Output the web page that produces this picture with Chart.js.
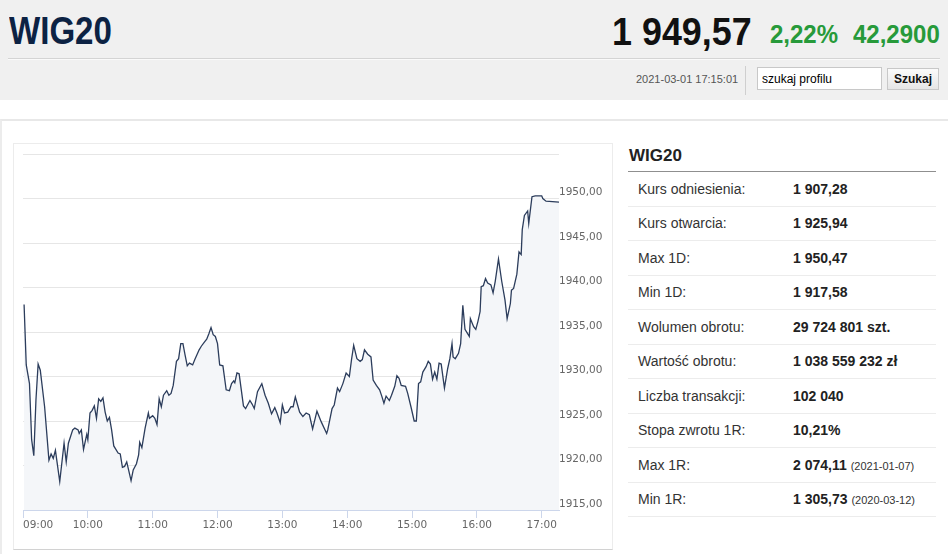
<!DOCTYPE html>
<html lang="pl">
<head>
<meta charset="utf-8">
<title>WIG20</title>
<script src="https://cdn.jsdelivr.net/npm/chart.js@4.4.1/dist/chart.umd.min.js"></script>
<style>
  html, body { margin: 0; padding: 0; }
  body { width: 948px; height: 554px; position: relative; overflow: hidden; background: #fff; font-family: "Liberation Sans", Arial, sans-serif; }
  #top { position: absolute; left: 0; top: 0; width: 948px; height: 100px; background: #f0f0f0; }
  .big { position: absolute; white-space: nowrap; font-family: "Liberation Sans", Arial, sans-serif; font-weight: bold; transform-origin: 0 0; }
  .ticker { left: 9px; top: 12px; font-size: 38px; line-height: 38px; color: #0c2243; transform: scaleX(0.87); }
  .last { left: 612px; top: 12px; font-size: 39px; line-height: 39px; color: #111; transform: scaleX(0.92); }
  .chg { top: 22px; font-size: 25px; line-height: 25px; color: #279a3a; transform: scaleX(0.96); }
  .rule { position: absolute; left: 8px; right: 8px; top: 58px; height: 0; border-top: 1px solid #d4d4d4; border-bottom: 1px solid #fafafa; }
  .stamp { position: absolute; left: 636px; top: 73px; font-size: 11px; color: #555; }
  .vsep { position: absolute; left: 745px; top: 66px; width: 1px; height: 29px; background: #cfcfcf; }
  .search { position: absolute; left: 757px; top: 67px; width: 125px; height: 23px; box-sizing: border-box; border: 1px solid #c8c8c8; padding: 0 4px; font: 12px "Liberation Sans", Arial, sans-serif; color: #000; background: #fff; }
  .btn { position: absolute; left: 887px; top: 68px; width: 52px; height: 22px; box-sizing: border-box; border: 1px solid #c8c8c8; background: linear-gradient(#fbfbfb, #e6e6e6); font: bold 12px "Liberation Sans", Arial, sans-serif; color: #111; padding: 0; }
  #content { position: absolute; left: 0; top: 119px; width: 948px; height: 435px; border-top: 2px solid #e8e8e8; border-left: 2px solid #ececec; box-sizing: border-box; }
  #chartBox { position: absolute; left: 13px; top: 143px; width: 600px; height: 407px; box-sizing: border-box; border: 1px solid #ececec; border-bottom-color: #d2d2d2; }
  #chartWrap { position: absolute; left: 0; top: 0; width: 598px; height: 405px; }
  #panel { position: absolute; left: 628px; top: 143px; width: 308px; }
  #panel h2 { margin: 0; height: 28px; line-height: 26px; font-size: 17px; font-weight: bold; color: #222; border-bottom: 1px solid #8f8f8f; padding-left: 1px; }
  #panel table { border-collapse: collapse; width: 308px; }
  #panel td { height: 33.5px; padding: 0; border-bottom: 1px solid #ececec; font-size: 14px; vertical-align: middle; }
  #panel td.lab { width: 155px; padding-left: 10px; color: #333; }
  #panel td.val { font-weight: bold; color: #222; }
  #panel td.val small { font-weight: normal; font-size: 11px; color: #333; }
</style>
</head>
<body>
<div id="top">
  <div class="big ticker">WIG20</div>
  <div class="big last">1 949,57</div>
  <div class="big chg" style="left: 770px">2,22%</div>
  <div class="big chg" style="left: 853px">42,2900</div>
  <div class="rule"></div>
  <div class="stamp">2021-03-01 17:15:01</div>
  <div class="vsep"></div>
  <input class="search" type="text" value="szukaj profilu">
  <button class="btn">Szukaj</button>
</div>
<div id="content"></div>
<div id="chartBox"><div id="chartWrap"><canvas id="wigChart"></canvas></div></div>
<div id="panel">
  <h2>WIG20</h2>
  <table>
    <tr><td class="lab">Kurs odniesienia:</td><td class="val">1 907,28</td></tr>
    <tr><td class="lab">Kurs otwarcia:</td><td class="val">1 925,94</td></tr>
    <tr><td class="lab">Max 1D:</td><td class="val">1 950,47</td></tr>
    <tr><td class="lab">Min 1D:</td><td class="val">1 917,58</td></tr>
    <tr><td class="lab">Wolumen obrotu:</td><td class="val">29 724 801 szt.</td></tr>
    <tr><td class="lab">Wartość obrotu:</td><td class="val">1 038 559 232 zł</td></tr>
    <tr><td class="lab">Liczba transakcji:</td><td class="val">102 040</td></tr>
    <tr><td class="lab">Stopa zwrotu 1R:</td><td class="val">10,21%</td></tr>
    <tr><td class="lab">Max 1R:</td><td class="val">2 074,11 <small>(2021-01-07)</small></td></tr>
    <tr><td class="lab">Min 1R:</td><td class="val">1 305,73 <small>(2020-03-12)</small></td></tr>
  </table>
</div>
<script>
// intraday session, minutes after 09:00
const minutes = [
  1, 3, 6, 8, 10, 12, 14, 16, 20, 24,
  26, 28, 30, 34, 38, 40, 42, 46, 48, 51,
  52, 54, 56, 59, 60, 62, 64, 66, 68, 70,
  72, 74, 76, 78, 80, 82, 84, 88, 90, 92,
  94, 96, 100, 102, 105, 107, 108, 110, 113, 116,
  117, 120, 122, 124, 126, 128, 130, 133, 135, 137,
  139, 142, 144, 146, 148, 150, 152, 154, 157, 159,
  163, 165, 168, 170, 172, 174, 176, 178, 180, 182,
  185, 188, 191, 193, 195, 196, 198, 200, 202, 204,
  206, 210, 212, 214, 217, 221, 224, 227, 230, 233,
  235, 238, 240, 242, 245, 248, 250, 252, 256, 259,
  262, 265, 268, 272, 276, 281, 282, 286, 288, 291,
  293, 296, 299, 302, 304, 306, 309, 312, 314, 316,
  319, 322, 324, 327, 330, 332, 334, 336, 339, 341,
  344, 346, 348, 350, 354, 356, 359, 362, 364, 366,
  368, 370, 373, 375, 377, 379, 381, 383, 385, 387,
  389, 390, 393, 395, 397, 398, 400, 403, 405, 407,
  409, 411, 413, 414, 417, 419, 421, 423, 424, 426,
  428, 430, 433, 435, 437, 440, 443, 446, 448, 451,
  452, 454, 457, 459, 461, 462, 464, 467, 468, 471,
  474, 480, 481, 484, 496
];

const prices = [
  1938.1, 1931.3, 1929.2, 1922.9, 1921.1, 1927.4, 1931.4, 1930.7, 1926.6, 1920.6,
  1921.3, 1920.8, 1921.7, 1918.2, 1922.5, 1920.4, 1922.5, 1924.0, 1924.2, 1924.0,
  1923.6, 1924.0, 1921.8, 1923.5, 1922.9, 1925.9, 1926.2, 1926.7, 1925.3, 1927.5,
  1927.2, 1927.6, 1926.0, 1925.0, 1925.4, 1924.0, 1922.2, 1921.4, 1921.3, 1919.8,
  1919.9, 1920.4, 1918.3, 1919.5, 1920.2, 1921.2, 1922.6, 1922.0, 1924.2, 1925.9,
  1925.3, 1925.6, 1925.3, 1924.6, 1927.5, 1926.6, 1927.9, 1928.4, 1927.9, 1928.1,
  1929.0, 1931.7, 1932.0, 1933.7, 1933.7, 1932.4, 1931.2, 1931.5, 1931.3, 1931.9,
  1933.0, 1933.4, 1933.9, 1934.2, 1934.8, 1935.5, 1934.7, 1934.5, 1933.7, 1931.3,
  1931.2, 1928.5, 1928.4, 1929.2, 1929.5, 1929.3, 1930.4, 1930.3, 1928.5, 1926.7,
  1926.4, 1927.3, 1926.9, 1926.4, 1928.3, 1929.2, 1927.9, 1927.0, 1925.8, 1926.5,
  1925.9, 1924.8, 1926.8, 1925.9, 1926.0, 1926.6, 1926.6, 1927.7, 1926.0, 1925.5,
  1925.9, 1925.7, 1924.1, 1926.1, 1924.9, 1923.6, 1924.0, 1926.4, 1926.8, 1928.7,
  1928.3, 1929.2, 1930.4, 1930.0, 1931.9, 1933.5, 1932.0, 1931.7, 1931.9, 1933.0,
  1932.5, 1932.2, 1929.6, 1929.0, 1928.5, 1927.8, 1927.0, 1927.8, 1927.3, 1927.9,
  1928.9, 1930.1, 1929.8, 1929.0, 1928.9, 1928.1, 1926.6, 1925.0, 1925.0, 1929.2,
  1929.4, 1930.5, 1931.1, 1931.7, 1931.4, 1929.7, 1930.5, 1929.7, 1931.5, 1931.4,
  1929.6, 1928.7, 1930.9, 1932.0, 1933.7, 1932.2, 1932.0, 1932.6, 1933.7, 1938.0,
  1935.3, 1934.9, 1934.5, 1936.5, 1935.6, 1935.3, 1936.2, 1937.3, 1940.1, 1940.2,
  1941.0, 1940.5, 1940.3, 1939.4, 1940.7, 1943.2, 1940.7, 1938.6, 1936.5, 1938.2,
  1939.7, 1939.9, 1941.5, 1944.0, 1943.7, 1946.5, 1948.1, 1948.6, 1947.2, 1950.2,
  1950.3, 1950.3, 1950.0, 1949.7, 1949.6
];

const hourLabels = ['09:00', '10:00', '11:00', '12:00', '13:00', '14:00', '15:00', '16:00', '17:00'];
const hourTicks = [0, 60, 120, 180, 240, 300, 360, 420, 480];
const priceTicks = [1915, 1920, 1925, 1930, 1935, 1940, 1945, 1950, 1955];
const sessionEnd = 496;

const axisFont = { family: '"DejaVu Sans", sans-serif', size: 10.5 };

// highcharts-like x labels: first one sits right of its tick
const hourLabelPlugin = {
  id: 'hourLabels',
  afterDraw(chart) {
    const xs = chart.scales.x;
    const ctx = chart.ctx;
    ctx.save();
    ctx.font = '10.5px "DejaVu Sans", sans-serif';
    ctx.fillStyle = '#666';
    ctx.textBaseline = 'middle';
    hourTicks.forEach((v, i) => {
      ctx.textAlign = i === 0 ? 'left' : 'center';
      ctx.fillText(hourLabels[i], xs.getPixelForValue(v), xs.top + 15);
    });
    ctx.restore();
  }
};

new Chart(document.getElementById('wigChart'), {
  type: 'line',
  data: {
    datasets: [{
      data: minutes.map((m, i) => ({ x: m, y: prices[i] })),
      borderColor: '#2c3d5c',
      borderWidth: 1.3,
      backgroundColor: '#f4f6f9',
      fill: 'start',
      pointRadius: 0,
      tension: 0
    }]
  },
  options: {
    responsive: true,
    maintainAspectRatio: false,
    animation: false,
    layout: { padding: { left: 9, top: 10, right: 0, bottom: 0 } },
    plugins: {
      legend: { display: false },
      tooltip: { enabled: false }
    },
    scales: {
      x: {
        type: 'linear',
        min: 0,
        max: sessionEnd,
        afterBuildTicks: s => { s.ticks = hourTicks.map(v => ({ value: v })); },
        afterFit: s => { s.height = 39; },
        ticks: { display: false },
        grid: { drawOnChartArea: false, drawTicks: true, tickLength: 8, color: '#ccd6eb', lineWidth: 1 },
        border: { display: true, color: '#ccd6eb', width: 1 }
      },
      y: {
        position: 'right',
        min: priceTicks[0],
        max: priceTicks[priceTicks.length - 1],
        afterBuildTicks: s => { s.ticks = priceTicks.map(v => ({ value: v })); },
        afterFit: s => { s.width = 53; },
        ticks: {
          font: axisFont,
          color: '#666',
          padding: 0,
          labelOffset: -6,
          z: 1,
          callback: v => v === priceTicks[priceTicks.length - 1] ? '' : v.toFixed(2).replace('.', ',')
        },
        grid: { color: '#e6e6e6', lineWidth: 1, drawTicks: false },
        border: { display: false }
      }
    }
  },
  plugins: [hourLabelPlugin]
});
</script>
</body>
</html>
